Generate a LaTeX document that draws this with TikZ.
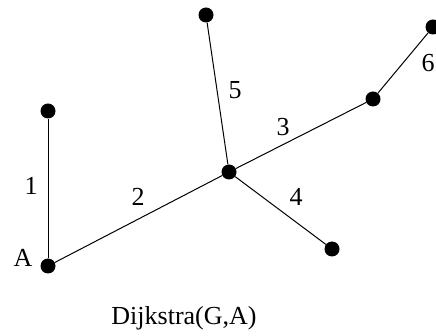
\documentclass[tikz,border=0pt]{standalone}
\usepackage{fontspec}
\setmainfont{Liberation Serif}
\begin{document}
\begin{tikzpicture}[x=1pt,y=-1pt,
  vtx/.style={circle,fill=black,inner sep=0pt,minimum size=15pt},
  lbl/.style={font=\fontsize{26}{30}\selectfont,inner sep=0pt},
  edge/.style={draw=black,line width=1pt}]
\useasboundingbox (0,0) rectangle (436,336);
\node[vtx] (A) at (48,266) {};
\node[vtx] (B) at (48,111) {};
\node[vtx] (C) at (229,172) {};
\node[vtx] (T) at (206,15) {};
\node[vtx] (R) at (373,99) {};
\node[vtx] (TR) at (433,27) {};
\node[vtx] (LR) at (332,249) {};
\draw[edge] (A) -- (B);
\draw[edge] (A) -- (C);
\draw[edge] (C) -- (T);
\draw[edge] (C) -- (R);
\draw[edge] (C) -- (LR);
\draw[edge] (R) -- (TR);
\node[lbl] (l1) at (31,186) {1};
\node[lbl] (l2) at (138,197) {2};
\node[lbl] (l3) at (283,127) {3};
\node[lbl] (l4) at (296,197) {4};
\node[lbl] (l5) at (235,90) {5};
\node[lbl] (l6) at (428,63) {6};
\node[lbl] (lA) at (23,258) {A};
\node[lbl] (cap) at (184,318) {Dijkstra(G,A)};
\end{tikzpicture}
\end{document}
